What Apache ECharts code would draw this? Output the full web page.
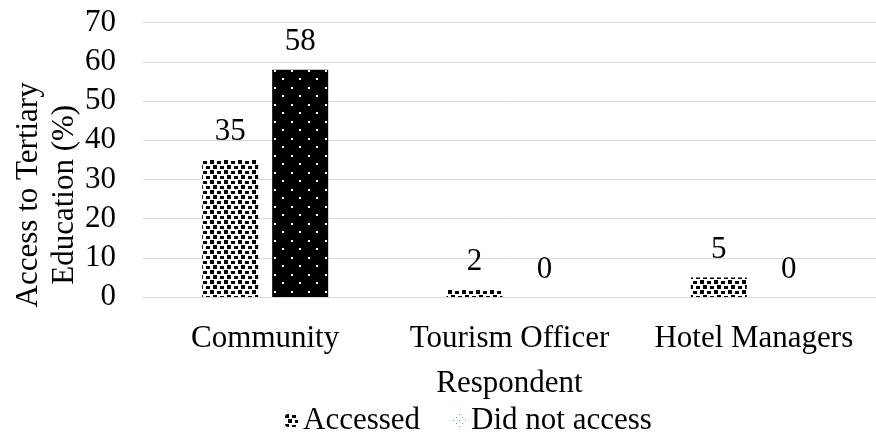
<!DOCTYPE html>
<html><head><meta charset="utf-8">
<script src="https://cdn.jsdelivr.net/npm/echarts@6/dist/echarts.min.js"></script>
<style>html,body{margin:0;padding:0;background:#fff}#c{width:876px;height:436px}</style>
</head><body><div id="c"></div>
<script>
const categories = ['Community', 'Tourism Officer', 'Hotel Managers'];
const accessed = [35, 2, 5];
const didNotAccess = [58, 0, 0];
const yTicks = [0, 10, 20, 30, 40, 50, 60, 70];
const seriesNames = ['Accessed', 'Did not access'];

function confetti() {
  const c = document.createElement('canvas'); c.width = 14; c.height = 10;
  const g = c.getContext('2d'); g.fillStyle = '#fff'; g.fillRect(0,0,14,10);
  g.fillStyle = '#000';
  [[0,0,4,4],[7,1,4,3],[3,5,4,4],[10,6,4,3]].forEach(r=>g.fillRect(r[0],r[1],r[2],r[3]));
  return c;
}
function dots(bg, fg, size) {
  const c = document.createElement('canvas'); c.width = 17; c.height = 17;
  const g = c.getContext('2d'); g.fillStyle = bg; g.fillRect(0,0,17,17);
  g.fillStyle = fg; g.fillRect(2,2,size,size); g.fillRect(10,10,size,size);
  return c;
}
function lightDots() {
  const c = document.createElement('canvas'); c.width = 6; c.height = 6;
  const g = c.getContext('2d'); g.fillStyle = '#fff'; g.fillRect(0,0,6,6);
  g.fillStyle = '#5b9bd5'; g.fillRect(0,0,1,1); g.fillRect(3,3,1,1);
  return c;
}
const patA = {image: confetti(), repeat: 'repeat'};
const patB = {image: dots('#000', '#fff', 2), repeat: 'repeat'};
const patLegB = {image: lightDots(), repeat: 'repeat'};

const font = 'Liberation Serif';
const fs = 31;
const chart = echarts.init(document.getElementById('c'));
const labelCfg = {show: true, position: 'top', distance: 12, color: '#000', fontFamily: font, fontSize: fs};
chart.setOption({
  animation: false,
  textStyle: {fontFamily: font},
  grid: {left: 143, right: 0, top: 22.7, bottom: 139, containLabel: false, outerBoundsMode: 'none'},
  legend: {
    top: 400, left: 280, itemWidth: 13, itemHeight: 13, itemGap: 33,
    textStyle: {fontFamily: font, fontSize: fs, color: '#000'},
    data: [
      {name: seriesNames[0], itemStyle: {color: patA}},
      {name: seriesNames[1], itemStyle: {color: patLegB}}
    ]
  },
  xAxis: {
    type: 'category', data: categories,
    name: 'Respondent', nameLocation: 'middle', nameGap: 71,
    nameTextStyle: {fontFamily: font, fontSize: fs, color: '#000'},
    axisLine: {lineStyle: {color: '#d9d9d9', width: 1}},
    axisTick: {show: false},
    axisLabel: {fontFamily: font, fontSize: fs, color: '#000', margin: 26, interval: 0, hideOverlap: false}
  },
  yAxis: {
    type: 'value', min: yTicks[0], max: yTicks[yTicks.length-1], interval: 10,
    name: 'Access to Tertiary\nEducation (%)', nameLocation: 'middle', nameGap: 60, nameMoveOverlap: false,
    nameTextStyle: {fontFamily: font, fontSize: fs, color: '#000', lineHeight: 36, padding: [0, 70, 0, 0]},
    axisLine: {show: false}, axisTick: {show: false},
    axisLabel: {fontFamily: font, fontSize: fs, color: '#000', margin: 27},
    splitLine: {lineStyle: {color: '#d9d9d9', width: 1}}
  },
  series: [
    {name: seriesNames[0], type: 'bar', data: accessed, barWidth: 56, barGap: '25%',
     itemStyle: {color: patA}, label: labelCfg},
    {name: seriesNames[1], type: 'bar', data: didNotAccess, barWidth: 56,
     itemStyle: {color: patB}, label: labelCfg}
  ]
});
</script></body></html>
